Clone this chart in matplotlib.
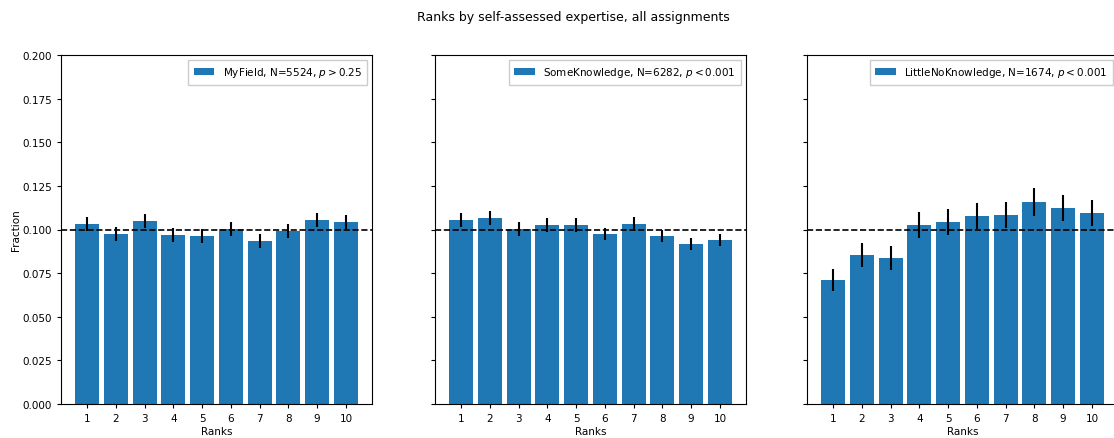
import matplotlib
matplotlib.use("Agg")
import matplotlib.pyplot as plt
import numpy as np

ranks = [1, 2, 3, 4, 5, 6, 7, 8, 9, 10]
titles = ["MyField, N=5524, $p > 0.25$",
          "SomeKnowledge, N=6282, $p < 0.001$",
          "LittleNoKnowledge, N=1674, $p < 0.001$"]
myfield = [0.1031, 0.0974, 0.1049, 0.0968, 0.0963, 0.1003, 0.0934, 0.0991, 0.1054, 0.1043]
myfield_err = [0.0041, 0.0040, 0.0041, 0.0040, 0.0040, 0.0040, 0.0039, 0.0040, 0.0041, 0.0041]
someknow = [0.1054, 0.1066, 0.1003, 0.1026, 0.1026, 0.0974, 0.1031, 0.0963, 0.0917, 0.0940]
someknow_err = [0.0039, 0.0039, 0.0038, 0.0038, 0.0038, 0.0037, 0.0038, 0.0037, 0.0036, 0.0037]
littleno = [0.0711, 0.0854, 0.0837, 0.1026, 0.1043, 0.1077, 0.1083, 0.1158, 0.1123, 0.1095]
littleno_err = [0.0063, 0.0068, 0.0068, 0.0074, 0.0075, 0.0076, 0.0076, 0.0078, 0.0077, 0.0076]

series = [(myfield, myfield_err), (someknow, someknow_err), (littleno, littleno_err)]
yticks = [0.0, 0.025, 0.05, 0.075, 0.1, 0.125, 0.15, 0.175, 0.2]

fig = plt.figure(figsize=(11.14, 4.39), dpi=100)
W, H = 1114, 439
lefts = [61, 435, 807]
aw = 311
top, bottom = 56, 405
fs = 7.5
axes = []
for i, (vals, errs) in enumerate(series):
    ax = fig.add_axes([lefts[i] / W, 1 - bottom / H, aw / W, (bottom - top) / H],
                      sharey=axes[0] if axes else None)
    axes.append(ax)
    ax.bar(ranks, vals, width=0.83, color="#1f77b4", yerr=errs,
           error_kw=dict(ecolor="black", elinewidth=1.5, capsize=0),
           label=titles[i])
    ax.axhline(0.1, color="black", linestyle="--", linewidth=1.2)
    ax.set_ylim(0, 0.2)
    ax.set_yticks(yticks)
    ax.set_xticks(ranks)
    ax.tick_params(labelsize=fs, length=3)
    ax.set_xlabel("Ranks", fontsize=fs, labelpad=2)
    ax.legend(loc="upper right", fontsize=fs, handlelength=2.0, borderpad=0.5,
              fancybox=False, framealpha=1, edgecolor="#cccccc")
    if i == 0:
        ax.set_ylabel("Fraction", fontsize=fs, labelpad=1)
        ax.yaxis.set_major_formatter(matplotlib.ticker.FormatStrFormatter("%.3f"))
    else:
        ax.tick_params(labelleft=False)

fig.suptitle("Ranks by self-assessed expertise, all assignments", fontsize=9,
             x=573 / W, y=0.975)
fig.savefig("out.png", dpi=100)
